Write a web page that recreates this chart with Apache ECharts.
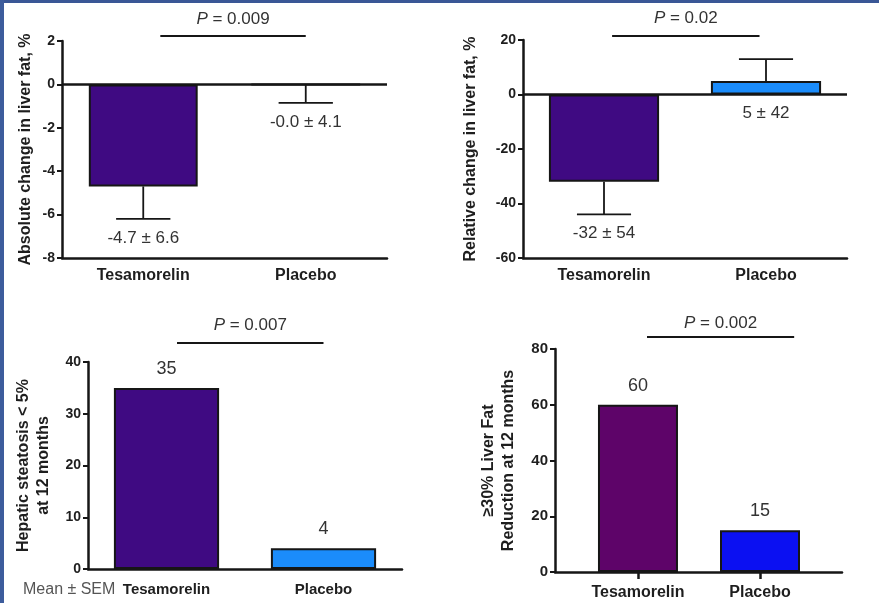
<!DOCTYPE html>
<html>
<head>
<meta charset="utf-8">
<script src="https://cdn.jsdelivr.net/npm/echarts@6/dist/echarts.min.js"></script>
<style>
  html, body { margin: 0; padding: 0; background: #fff; }
  #chart { position: absolute; left: 0; top: 0; width: 879px; height: 603px; }
  .edge { position: absolute; pointer-events: none; }
</style>
</head>
<body>
<div id="chart"></div>
<div class="edge" style="left:0;top:0;width:879px;height:3px;background:#3a5796"></div>
<div class="edge" style="left:0;top:0;width:4px;height:603px;background:#3d5c9c"></div>
<script>
// ---- data ----
const groups = ['Tesamorelin', 'Placebo'];

// absolute change in liver fat, % (mean, SD, end of SEM whisker)
const absMean = [-4.7, -0.0];
const absSD = [6.6, 4.1];
const absWhisker = [-6.2, -0.85];
const absTicks = [-8, -6, -4, -2, 0, 2];

// relative change in liver fat, %
const relMean = [-32, 5];
const relSD = [54, 42];
const relWhisker = [-44, 13];
const relTicks = [-60, -40, -20, 0, 20];

// hepatic steatosis < 5% at 12 months, %
const steatosisPct = [35, 4];
const steatosisTicks = [0, 10, 20, 30, 40];

// >=30% liver fat reduction at 12 months, %
const reductionPct = [60, 15];
const reductionTicks = [0, 20, 40, 60, 80];

const pValues = ['0.009', '0.02', '0.007', '0.002'];

// ---- layout & style ----
const FONT = "'Liberation Sans', Arial, sans-serif";
const INK = '#161616';
const grids = [
  { left: 62, top: 41, width: 325, height: 217 },
  { left: 523, top: 40, width: 324, height: 218 },
  { left: 88, top: 362, width: 314, height: 207 },
  { left: 555, top: 349, width: 287, height: 223 }
];
// bracket span in category units, rise above grid top, text rise above line
const brackets = [
  { from: 0.105, to: 1.0, rise: 5, textRise: 17 },
  { from: 0.05, to: 0.96, rise: 4, textRise: 18 },
  { from: 0.067, to: 1.0, rise: 19, textRise: 18 },
  { from: 0.074, to: 1.28, rise: 12, textRise: 14 }
];
const colors = [
  ['#3f0a82', '#1b8cfb'],
  ['#3f0a82', '#1b8cfb'],
  ['#3f0a82', '#1b8cfb'],
  ['#5e0469', '#0b10f2']
];
const yNames = [
  'Absolute change in liver fat, %',
  'Relative change in liver fat, %',
  'Hepatic steatosis < 5%\nat 12 months',
  '\u226530% Liver Fat\nReduction at 12 months'
];
const nameGaps = [26, 42, 34, 36];
const tickSets = [absTicks, relTicks, steatosisTicks, reductionTicks];
const tickFont = [14, 14, 14, 15];
const catFont = [16, 16, 15, 16];
const catMargin = [10, 10, 13, 13];

function signed(v, digits) {
  const neg = v < 0 || Object.is(v, -0);
  return (neg ? '-' : '') + Math.abs(v).toFixed(digits);
}

function yAxisFor(i) {
  const t = tickSets[i];
  return {
    gridIndex: i, type: 'value',
    min: t[0], max: t[t.length - 1], interval: t[1] - t[0],
    axisLine: { show: true, onZero: false, lineStyle: { color: INK, width: 2.5 } },
    axisTick: { show: true, length: 5, lineStyle: { color: INK, width: 2 } },
    axisLabel: { fontFamily: FONT, fontWeight: 'bold', fontSize: tickFont[i], color: '#1e1e1e', margin: 7 },
    splitLine: { show: false },
    name: yNames[i], nameLocation: 'middle', nameGap: nameGaps[i], nameRotate: 90,
    nameTextStyle: { fontFamily: FONT, fontWeight: 'bold', fontSize: 16, color: '#1e1e1e', lineHeight: 20 }
  };
}

function xAxisCat(i) {
  return {
    gridIndex: i, type: 'category', data: groups,
    axisLine: { onZero: false, lineStyle: { color: INK, width: 2.5 } },
    axisTick: { alignWithLabel: true, length: 7, lineStyle: { color: INK, width: 2.5 } },
    axisLabel: { fontFamily: FONT, fontWeight: 'bold', fontSize: catFont[i], color: '#1e1e1e', margin: catMargin[i] }
  };
}

function barItems(values, i) {
  return values.map((v, k) => ({
    value: v,
    itemStyle: { color: colors[i][k], borderColor: INK, borderWidth: 2 }
  }));
}

function valueLabel(p) {
  return Array.isArray(p.value) ? p.value[1] : p.value;
}

// whiskers plus "mean ± SD" text below the lowest point of each group
function whiskerSeries(i, means, whiskers, sds, digits) {
  const texts = means.map((m, k) => signed(m, digits) + ' \u00b1 ' + sds[k]);
  return {
    type: 'custom', xAxisIndex: i, yAxisIndex: i, clip: false, silent: true, z: 5,
    data: means.map((m, k) => [k, m, whiskers[k]]),
    encode: { x: 0, y: [1, 2] },
    renderItem: function (params, api) {
      const x = api.value(0), m = api.value(1), e = api.value(2);
      const pm = api.coord([x, m]);
      const pe = api.coord([x, e]);
      const p0 = api.coord([x, 0]);
      const half = api.size([1, 0])[0] * 0.167;
      const lowY = Math.max(pm[1], pe[1], p0[1]);
      const ls = { stroke: INK, lineWidth: 1.8 };
      return {
        type: 'group',
        children: [
          { type: 'line', shape: { x1: pm[0], y1: pm[1], x2: pe[0], y2: pe[1] }, style: ls },
          { type: 'line', shape: { x1: pe[0] - half, y1: pe[1], x2: pe[0] + half, y2: pe[1] }, style: ls },
          {
            type: 'text', x: pm[0], y: lowY + 19,
            style: {
              text: texts[params.dataIndex], fill: '#333', font: '17px ' + FONT,
              textAlign: 'center', textVerticalAlign: 'middle', align: 'center', verticalAlign: 'middle'
            }
          }
        ]
      };
    }
  };
}

// significance bracket with its P value above
function bracketSeries(i) {
  const b = brackets[i];
  const t = tickSets[i];
  const top = t[t.length - 1];
  return {
    type: 'custom', xAxisIndex: i, yAxisIndex: i, clip: false, silent: true, z: 6,
    data: [[0, top]],
    renderItem: function (params, api) {
      const c0 = api.coord([0, top]);
      const c1 = api.coord([1, top]);
      const span = c1[0] - c0[0];
      const x0 = c0[0] + b.from * span, x1 = c0[0] + b.to * span;
      const y = c0[1] - b.rise;
      return {
        type: 'group',
        children: [
          { type: 'line', shape: { x1: x0, y1: y, x2: x1, y2: y }, style: { stroke: INK, lineWidth: 1.8 } },
          {
            type: 'text', x: (x0 + x1) / 2, y: y - b.textRise,
            style: {
              text: '{i|P} = ' + pValues[i],
              rich: { i: { fontStyle: 'italic', fontSize: 17, fontFamily: FONT, fill: '#333' } },
              fill: '#333', font: '17px ' + FONT,
              textAlign: 'center', textVerticalAlign: 'middle', align: 'center', verticalAlign: 'middle'
            }
          }
        ]
      };
    }
  };
}

const topLabel = {
  show: true, position: 'top', distance: 10,
  fontFamily: FONT, fontSize: 18, color: '#333', formatter: valueLabel
};

const zeroLine = {
  silent: true, symbol: 'none',
  label: { show: false },
  lineStyle: { color: INK, width: 2.5, type: 'solid' },
  data: [{ yAxis: 0 }]
};

const option = {
  animation: false,
  backgroundColor: '#ffffff',
  grid: grids,
  xAxis: [
    xAxisCat(0), xAxisCat(1), xAxisCat(2),
    {
      gridIndex: 3, type: 'value', min: -0.68, max: 1.672,
      axisLine: { show: true, onZero: false, lineStyle: { color: INK, width: 2.5 } },
      axisTick: { show: true, customValues: [0, 1], length: 7, lineStyle: { color: INK, width: 2.5 } },
      axisLabel: {
        customValues: [0, 1], formatter: v => groups[Math.round(v)],
        fontFamily: FONT, fontWeight: 'bold', fontSize: catFont[3], color: '#1e1e1e', margin: catMargin[3]
      },
      splitLine: { show: false }
    }
  ],
  yAxis: [yAxisFor(0), yAxisFor(1), yAxisFor(2), yAxisFor(3)],
  graphic: [
    { type: 'text', left: 23, top: 582, style: { text: 'Mean \u00b1 SEM', font: '16px ' + FONT, fill: '#555' } }
  ],
  series: [
    { type: 'bar', xAxisIndex: 0, yAxisIndex: 0, barWidth: '67%', data: barItems(absMean, 0), markLine: zeroLine },
    whiskerSeries(0, absMean, absWhisker, absSD, 1),
    bracketSeries(0),

    { type: 'bar', xAxisIndex: 1, yAxisIndex: 1, barWidth: '68%', data: barItems(relMean, 1), markLine: zeroLine },
    whiskerSeries(1, relMean, relWhisker, relSD, 0),
    bracketSeries(1),

    { type: 'bar', xAxisIndex: 2, yAxisIndex: 2, barWidth: '67%', data: barItems(steatosisPct, 2), label: topLabel },
    bracketSeries(2),

    {
      type: 'bar', xAxisIndex: 3, yAxisIndex: 3, barWidth: 80,
      data: reductionPct.map((v, k) => ({
        value: [k, v],
        itemStyle: { color: colors[3][k], borderColor: INK, borderWidth: 2 }
      })),
      label: topLabel
    },
    bracketSeries(3)
  ]
};

const chart = echarts.init(document.getElementById('chart'), null, { renderer: 'canvas' });
chart.setOption(option);
</script>
</body>
</html>
